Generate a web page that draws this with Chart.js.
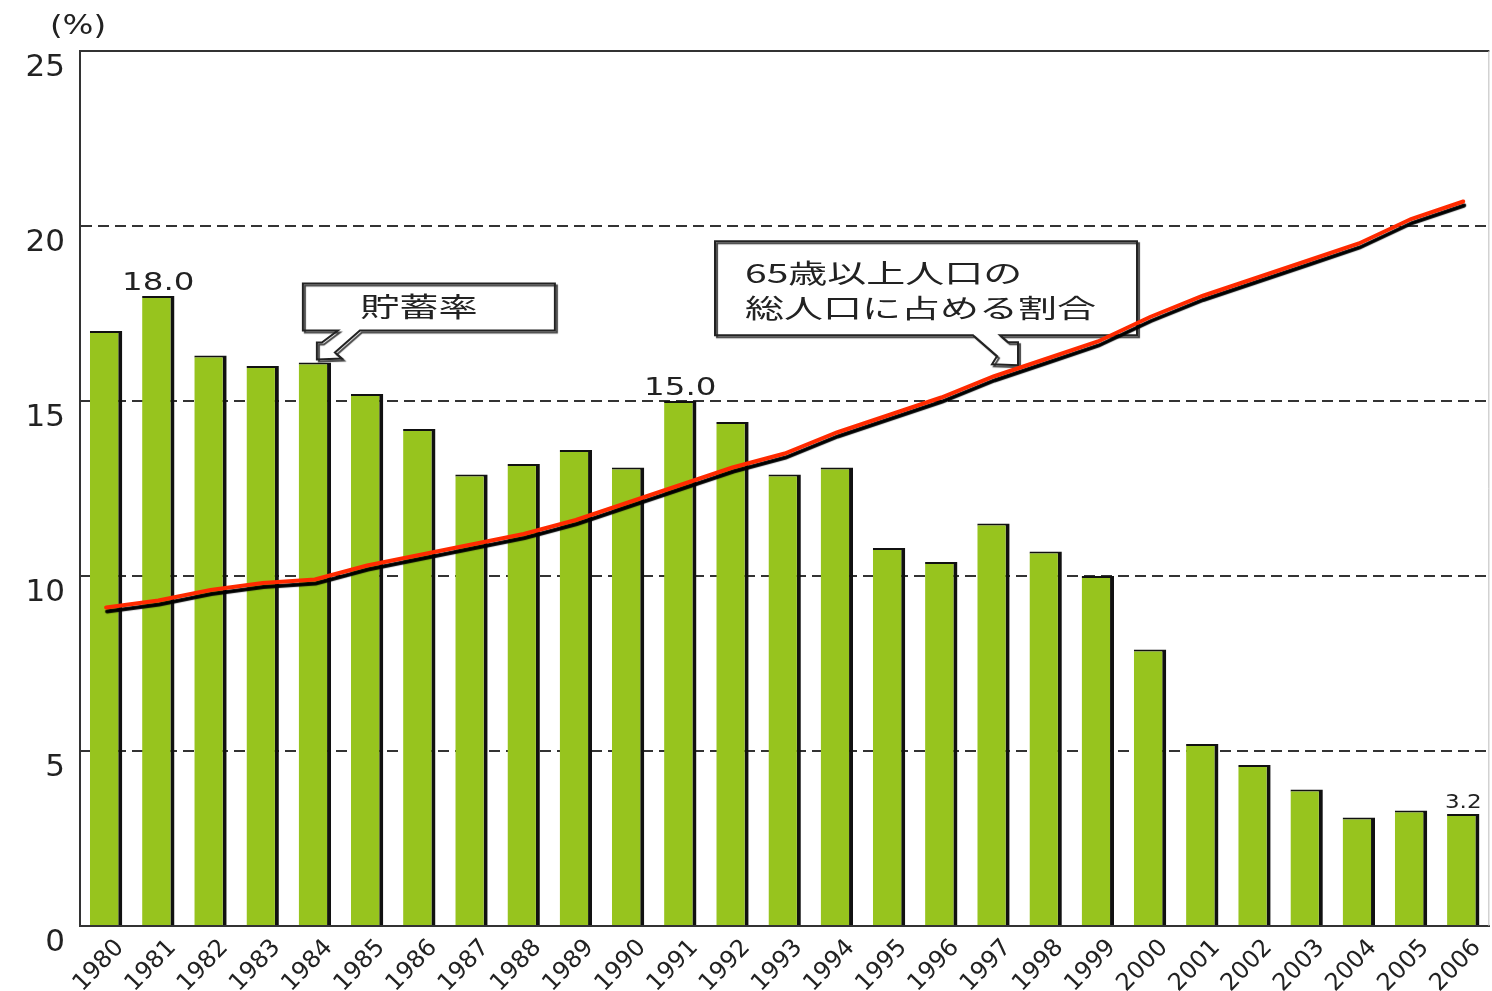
<!DOCTYPE html>
<html lang="ja">
<head>
<meta charset="utf-8">
<title>貯蓄率と65歳以上人口の割合</title>
<script src="https://cdn.jsdelivr.net/npm/chart.js@4"></script>
<style>
  html, body { margin: 0; padding: 0; background: #fff; }
  canvas { display: block; }
</style>
</head>
<body>
<canvas id="chart" width="1492" height="991"></canvas>
<script>
// 年次
const years = ['1980', '1981', '1982', '1983', '1984', '1985', '1986', '1987', '1988', '1989',
  '1990', '1991', '1992', '1993', '1994', '1995', '1996', '1997', '1998', '1999',
  '2000', '2001', '2002', '2003', '2004', '2005', '2006'];

// 貯蓄率 (%)
const savingRate = [17.0, 18.0, 16.3, 16.0, 16.1, 15.2, 14.2, 12.9, 13.2, 13.6,
  13.1, 15.0, 14.4, 12.9, 13.1, 10.8, 10.4, 11.5, 10.7, 10.0,
  7.9, 5.2, 4.6, 3.9, 3.1, 3.3, 3.2];

// 65歳以上人口の総人口に占める割合 (%)
const elderlyShare = [9.1, 9.3, 9.6, 9.8, 9.9, 10.3, 10.6, 10.9, 11.2, 11.6,
  12.1, 12.6, 13.1, 13.5, 14.1, 14.6, 15.1, 15.7, 16.2, 16.7,
  17.4, 18.0, 18.5, 19.0, 19.5, 20.2, 20.7];

// 値を表示する棒
const labelledYears = ['1981', '1991', '2006'];

const yTicks = [0, 5, 10, 15, 20, 25];

const FONT = '"DejaVu Sans", sans-serif';
const JP_FONT = '"Noto Sans CJK JP", sans-serif';

// 横に引き伸ばした文字
function wideText(ctx, text, x, y, sx, align) {
  ctx.save();
  ctx.translate(x, y);
  ctx.scale(sx, 1);
  ctx.textAlign = align || 'center';
  ctx.fillText(text, 0, 0);
  ctx.restore();
}

// 吹き出し (先端座標からの相対位置)
function callout(ctx, tip, box, pointer) {
  ctx.save();
  ctx.beginPath();
  ctx.moveTo(tip.x + box.left, tip.y + box.bottom);
  pointer.forEach(p => ctx.lineTo(tip.x + p[0], tip.y + p[1]));
  ctx.lineTo(tip.x + box.right, tip.y + box.bottom);
  ctx.lineTo(tip.x + box.right, tip.y + box.top);
  ctx.lineTo(tip.x + box.left, tip.y + box.top);
  ctx.closePath();
  ctx.fillStyle = '#fff';
  ctx.fill();
  ctx.shadowColor = 'rgba(0,0,0,0.75)';
  ctx.shadowOffsetX = 2;
  ctx.shadowOffsetY = 2;
  ctx.shadowBlur = 1;
  ctx.strokeStyle = '#222';
  ctx.lineWidth = 2;
  ctx.lineJoin = 'miter';
  ctx.stroke();
  ctx.restore();
}

const decorations = {
  id: 'decorations',
  beforeDatasetsDraw(chart) {
    const { ctx, chartArea, scales: { x, y } } = chart;
    // 右側の枠線
    ctx.save();
    ctx.strokeStyle = '#bbb';
    ctx.lineWidth = 1;
    ctx.beginPath();
    ctx.moveTo(chartArea.right - 0.5, chartArea.top);
    ctx.lineTo(chartArea.right - 0.5, chartArea.bottom);
    ctx.stroke();
    ctx.restore();

    // 貯蓄率の吹き出し (1984年の棒を指す)
    const i1 = years.indexOf('1984');
    const tip1 = { x: x.getPixelForValue(i1) + 2, y: y.getPixelForValue(savingRate[i1]) - 3 };
    callout(ctx, tip1, { left: -14, right: 238, top: -76, bottom: -29 },
      [[21, -29], [5, -17], [0, -17], [0, 0], [25, -1], [18, -7], [43, -29]]);

    // 高齢者割合の吹き出し (1997-1998年の間の線を指す)
    const i2 = years.indexOf('1997');
    const t = 0.47;
    const tip2 = {
      x: x.getPixelForValue(i2 + t),
      y: y.getPixelForValue(elderlyShare[i2] + t * (elderlyShare[i2 + 1] - elderlyShare[i2])) - 3
    };
    callout(ctx, tip2, { left: -303, right: 119, top: -124, bottom: -30 },
      [[-45, -30], [-21, -9], [-26, -1], [0, 0], [0, -23], [-10, -23], [-18, -30]]);

    ctx.save();
    ctx.fillStyle = '#222';
    ctx.textBaseline = 'middle';
    ctx.font = '27px ' + JP_FONT;
    wideText(ctx, '貯蓄率', tip1.x + 102, tip1.y - 53, 1.45, 'center');
    ctx.font = '26px ' + JP_FONT;
    wideText(ctx, '65歳以上人口の', tip2.x - 273, tip2.y - 92, 1.5, 'left');
    wideText(ctx, '総人口に占める割合', tip2.x - 273, tip2.y - 57, 1.5, 'left');
    ctx.restore();
  },
  afterDatasetsDraw(chart) {
    const { ctx, scales: { x, y } } = chart;
    ctx.save();
    ctx.fillStyle = '#222';
    ctx.textBaseline = 'alphabetic';
    labelledYears.forEach(yr => {
      const i = years.indexOf(yr);
      const small = yr === '2006';
      ctx.font = (small ? '20px ' : '25px ') + FONT;
      wideText(ctx, savingRate[i].toFixed(1), x.getPixelForValue(i), y.getPixelForValue(savingRate[i]) - 6,
        small ? 1.15 : 1.3, 'center');
    });
    // 単位
    ctx.font = '26px ' + FONT;
    wideText(ctx, '(%)', 78, 34, 1.25, 'center');
    ctx.restore();
  }
};

// 折れ線の黒い影
const lineShadow = {
  id: 'lineShadow',
  beforeDatasetDraw(chart, args) {
    if (args.meta.type !== 'line') return;
    const ctx = chart.ctx;
    ctx.save();
    ctx.shadowColor = '#000';
    ctx.shadowOffsetX = 1;
    ctx.shadowOffsetY = 4;
    ctx.shadowBlur = 1;
  },
  afterDatasetDraw(chart, args) {
    if (args.meta.type !== 'line') return;
    chart.ctx.restore();
  }
};

new Chart(document.getElementById('chart'), {
  data: {
    labels: years,
    datasets: [
      {
        type: 'line',
        label: '65歳以上人口の総人口に占める割合',
        data: elderlyShare,
        borderColor: '#ff2a00',
        borderWidth: 4,
        pointRadius: 0,
        tension: 0,
        borderCapStyle: 'round',
        order: 0
      },
      {
        type: 'bar',
        label: '貯蓄率',
        data: savingRate,
        backgroundColor: '#97c41e',
        borderColor: '#111',
        borderWidth: { top: 2, right: 4, left: 0, bottom: 0 },
        borderSkipped: false,
        categoryPercentage: 1,
        barPercentage: 0.62,
        order: 1
      }
    ]
  },
  options: {
    responsive: false,
    animation: false,
    layout: { padding: { top: 51, right: 2, left: 0, bottom: 0 } },
    plugins: {
      legend: { display: false },
      tooltip: { enabled: false }
    },
    scales: {
      x: {
        offset: true,
        grid: { display: false, drawTicks: false },
        border: { display: true, color: '#333', width: 2 },
        ticks: {
          color: '#222',
          font: { family: FONT, size: 24 },
          minRotation: 46,
          maxRotation: 46,
          autoSkip: false,
          padding: 8,
          labelOffset: 14
        },
        afterFit(scale) { scale.height = 65; }
      },
      y: {
        min: 0,
        max: 25,
        afterBuildTicks(scale) { scale.ticks = yTicks.map(v => ({ value: v })); },
        grid: {
          drawTicks: false,
          lineWidth: 2,
          color: ctx => (ctx.tick && ctx.tick.value === 0 ? 'rgba(0,0,0,0)' : '#333')
        },
        border: {
          display: true,
          color: '#333',
          width: 2,
          dash: ctx => (ctx.tick && ctx.tick.value > 0 && ctx.tick.value < 25 ? [11, 6] : [])
        },
        ticks: {
          color: '#222',
          font: { family: FONT, size: 31 },
          padding: 15,
          labelOffset: 17
        },
        afterFit(scale) { scale.width = 80; }
      }
    }
  },
  plugins: [decorations, lineShadow]
});
</script>
</body>
</html>
